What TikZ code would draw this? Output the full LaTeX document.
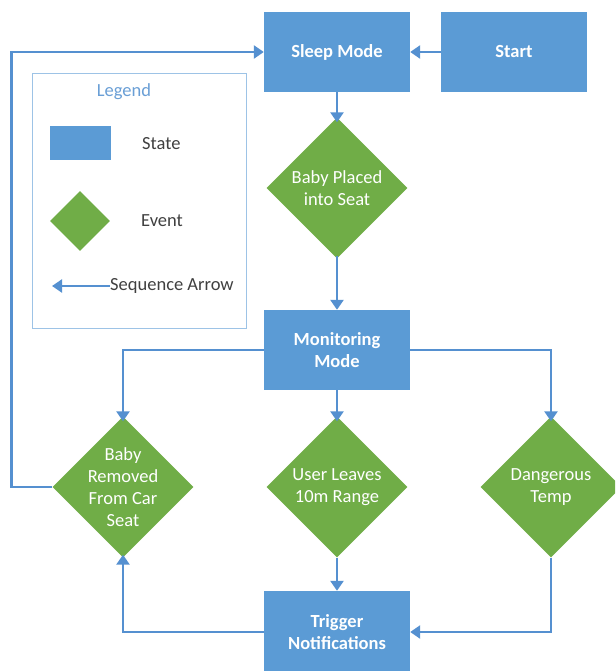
\documentclass[tikz,border=0pt]{standalone}
\usepackage{fontspec}
\setmainfont{Carlito}
\usetikzlibrary{arrows.meta,shapes.geometric}
\definecolor{stateblue}{HTML}{5B9BD5}
\definecolor{eventgreen}{HTML}{70AD47}
\definecolor{arrowblue}{HTML}{5590D0}
\definecolor{legendline}{HTML}{9DC3E6}
\definecolor{legendtext}{HTML}{6A9FD6}
\definecolor{labelgray}{HTML}{404040}
\tikzset{
  statebox/.style={rectangle, fill=stateblue, minimum width=146pt, minimum height=80pt, inner sep=0pt,
    text=white, font=\fontsize{18.5}{22}\selectfont\bfseries, align=center},
  eventbox/.style={diamond, fill=eventgreen, minimum width=141pt, minimum height=141pt, inner sep=0pt},
  evtext/.style={text=white, font=\fontsize{18.5}{22}\selectfont, align=center},
  arr/.style={draw=arrowblue, line width=2.9pt, -{Triangle[length=10pt,width=13pt]}},
  legtext/.style={text=labelgray, font=\fontsize{18.5}{22}\selectfont, anchor=west, inner sep=0pt}
}
\begin{document}
\begin{tikzpicture}[x=1pt,y=-1pt]
\useasboundingbox (0,0) rectangle (615,671);
\fill[white] (0,0) rectangle (615,671);
\begin{scope}
\clip (0,0) rectangle (615,671);
% states
\node[statebox] (sleep) at (337,52) {Sleep Mode};
\node[statebox] (start) at (514,52) {Start};
\node[statebox] (mon) at (337,350) {Monitoring\\Mode};
\node[statebox, minimum height=82pt] (trig) at (337,632) {Trigger\\Notifications};
% events
\node[eventbox, label={[evtext]center:Baby Placed\\into Seat}] (placed) at (337,188) {};
\node[eventbox, label={[evtext]center:Baby\\Removed\\From Car\\Seat}] (removed) at (123,487) {};
\node[eventbox, label={[evtext]center:User Leaves\\10m Range}] (leaves) at (337,487) {};
\node[eventbox, label={[evtext]center:Dangerous\\Temp}] (temp) at (551,487) {};
% connectors
\draw[arr] (start.west) -- (sleep.east);
\draw[arr] (sleep.south) -- ([yshift=-5pt]placed.north);
\draw[arr] ([yshift=3pt]placed.south) -- (mon.north);
\draw[arr] (mon.west) -| ([yshift=-5pt]removed.north);
\draw[arr] (mon.south) -- ([yshift=-5pt]leaves.north);
\draw[arr] (mon.east) -| ([yshift=-5pt]temp.north);
\draw[arr] (leaves.south) -- (trig.north);
\draw[arr] (temp.south) |- (trig.east);
\draw[arr] (trig.west) -| ([yshift=3pt]removed.south);
\draw[arr] (removed.west) -- ++(-41,0) |- (sleep.west);
% legend
\node[draw=legendline, line width=1pt, minimum width=214pt, minimum height=254pt, inner sep=0pt] (legend) at (139,201) {};
\node[text=legendtext, font=\fontsize{18.5}{22}\selectfont, inner sep=0pt] (legendtitle) at (124,92) {Legend};
\node[rectangle, fill=stateblue, minimum width=61pt, minimum height=34pt, inner sep=0pt] (legstate) at (80.5,143) {};
\node[legtext] (legstatetext) at (142,144) {State};
\node[diamond, fill=eventgreen, minimum width=60pt, minimum height=60pt, inner sep=0pt] (legevent) at (80,221) {};
\node[legtext] (legeventtext) at (141,221) {Event};
\node[legtext] (legarrowtext) at (110,286) {Sequence Arrow};
\draw[arr, line width=2.2pt] (legarrowtext.west) -- (52,286);
\end{scope}
\end{tikzpicture}
\end{document}
